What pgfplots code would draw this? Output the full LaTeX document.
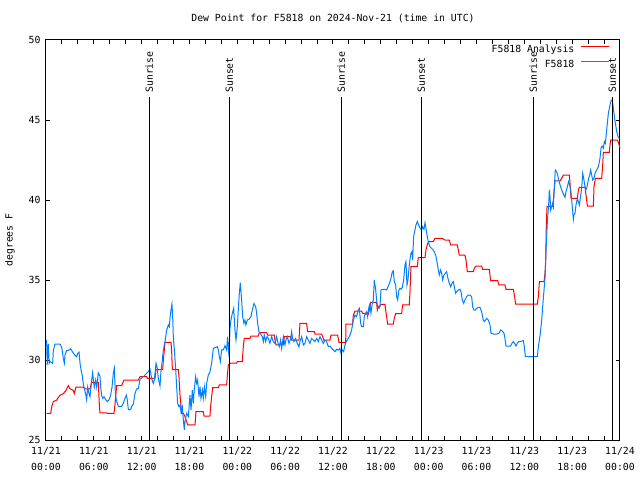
\documentclass[border=0pt]{standalone}
\usepackage{fontspec}
\setmainfont{DejaVu Sans Mono}
\usepackage{pgfplots}
\pgfplotsset{compat=1.18}
\definecolor{obsblue}{RGB}{0,128,255}
\newcommand\gfont{\fontsize{9.8}{14}\selectfont}
\newcommand\xfont{\fontsize{9.8}{15.5}\selectfont}
\begin{document}
\begin{tikzpicture}
\path[use as bounding box] (-46pt,-40pt) rectangle (594pt,440pt);
\begin{axis}[
  at={(0,0)}, anchor=south west,
  scale only axis, width=574pt, height=400pt,
  xmin=0, xmax=72, ymin=25, ymax=50,
  clip=false,
  xtick={0,6,...,72},
  xticklabels={{11/21\\00:00},{11/21\\06:00},{11/21\\12:00},{11/21\\18:00},{11/22\\00:00},{11/22\\06:00},{11/22\\12:00},{11/22\\18:00},{11/23\\00:00},{11/23\\06:00},{11/23\\12:00},{11/23\\18:00},{11/24\\00:00}},
  minor x tick num=2,
  ytick={25,30,...,50},
  tick align=inside,
  major tick length=4pt, minor tick length=4pt,
  tick style={black, line width=1pt},
  axis line style={line width=1pt},
  /pgf/number format/assume math mode=true,
  tick label style={font=\gfont},
  xticklabel style={font=\xfont, align=center, yshift=-4pt},
  yticklabel style={xshift=-2pt},
  title={Dew Point for F5818 on 2024-Nov-21 (time in UTC)},
  title style={font=\gfont, at={(0.5,1)}, anchor=center, yshift=16pt},
  legend style={font=\gfont, draw=none, fill=none, at={(0.987,0.997)}, anchor=north east, row sep=2pt,
    /tikz/every odd column/.append style={column sep=4pt}},
  legend cell align=right,
  legend plot pos=right,
  legend image code/.code={\draw[#1] (0pt,3pt) -- (28pt,3pt);},
]
\addplot[red, line width=1pt] coordinates {
(0.08,26.67) (0.59,26.67) (0.71,27.08) (0.92,27.4) (1.34,27.5) (1.76,27.8) (2.17,27.9) (2.51,28.1) (2.8,28.4) (3.01,28.2) (3.43,28.1) (3.55,27.9) (3.76,28.3) (4.68,28.3) (4.89,28.2) (5.52,28.2) (5.73,28.6) (6.56,28.6) (6.69,27.2) (6.77,26.7) (7.6,26.7) (7.69,26.67) (8.53,26.67) (8.65,27.2) (8.86,28.4) (9.49,28.4) (9.78,28.75) (11.58,28.75) (11.79,28.96) (12.63,28.96) (12.71,28.85) (13.67,28.85) (13.8,29.4) (14.64,29.4) (14.72,30.0) (14.93,31.1) (15.68,31.1) (15.76,30.6) (15.85,29.4) (16.6,29.4) (16.68,28.96) (16.81,27.8) (17.02,26.67) (17.23,26.67) (17.44,26.46) (17.77,25.94) (18.69,25.94) (18.81,26.77) (19.73,26.77) (19.82,26.5) (20.57,26.5) (20.65,27.1) (20.9,28.27) (21.62,28.27) (21.74,28.44) (22.66,28.44) (22.74,28.96) (22.87,29.69) (23.16,29.8) (23.91,29.8) (24.0,29.9) (24.62,29.9) (24.75,30.83) (24.87,31.35) (25.59,31.35) (25.71,31.5) (26.63,31.5) (26.76,31.71) (27.68,31.71) (27.8,31.56) (28.64,31.56) (28.72,31.25) (28.85,30.94) (29.77,30.94) (29.89,31.46) (30.69,31.46) (30.81,31.25) (31.73,31.25) (31.86,32.29) (32.69,32.29) (32.82,31.77) (33.66,31.77) (33.74,31.625) (34.57,31.625) (34.7,31.46) (34.83,31.25) (35.62,31.25) (35.75,31.56) (36.58,31.56) (36.75,31.1) (37.59,31.1) (37.63,32.25) (38.46,32.25) (38.55,32.81) (38.76,33.06) (39.59,33.06) (39.72,32.92) (40.43,32.85) (40.55,33.125) (40.72,33.6) (41.47,33.6) (41.56,33.125) (41.68,33.375) (41.89,33.375) (41.98,33.48) (42.52,33.48) (42.6,33.125) (42.73,32.71) (42.85,32.25) (43.56,32.25) (43.69,32.6) (43.86,32.9) (44.61,32.9) (44.73,33.44) (45.57,33.44) (45.65,34.17) (45.78,35.83) (46.57,35.83) (46.7,36.4) (47.54,36.4) (47.66,36.875) (47.87,37.29) (48.08,37.4) (48.58,37.4) (48.79,37.6) (49.75,37.6) (49.84,37.54) (50.05,37.5) (50.59,37.5) (50.76,37.19) (51.59,37.19) (51.72,36.875) (51.84,36.56) (52.55,36.56) (52.68,36.25) (52.85,35.52) (53.6,35.52) (53.72,35.73) (53.93,35.875) (54.64,35.875) (54.77,35.67) (55.61,35.67) (55.77,34.96) (56.65,34.96) (56.82,34.69) (57.57,34.69) (57.7,34.42) (58.62,34.42) (58.78,33.96) (58.91,33.5) (61.63,33.5) (61.76,33.96) (61.89,34.9) (62.47,34.9) (62.6,35.42) (62.68,36.08) (62.76,38.54) (62.85,39.6) (63.56,39.6) (63.64,40.0) (63.85,41.19) (64.48,41.19) (64.69,41.35) (64.9,41.56) (65.65,41.56) (65.73,41.04) (65.86,40.1) (66.65,40.1) (66.78,40.625) (66.9,40.79) (67.61,40.79) (67.74,40.31) (67.91,39.625) (68.66,39.625) (68.74,40.83) (68.91,41.35) (69.7,41.35) (69.83,42.19) (69.91,42.98) (70.66,42.98) (70.75,43.44) (70.83,43.75) (71.67,43.75) (71.84,43.54) (72.0,43.23)
};
\addlegendentry{F5818 Analysis}
\addplot[obsblue, line width=1pt] coordinates {
(0.08,31.25) (0.15,29.7) (0.29,31.0) (0.4,29.8) (0.5,29.9) (0.84,29.8) (0.92,30.6) (1.13,31.0) (1.55,31.0) (1.76,31.0) (1.97,30.8) (2.17,30.1) (2.30,29.8) (2.38,30.3) (2.59,30.6) (2.8,30.6) (3.09,30.7) (3.34,30.5) (3.64,30.3) (3.85,30.2) (3.97,30.4) (4.14,30.5) (4.27,29.8) (4.39,29.4) (4.56,29.0) (4.68,28.5) (4.81,28.2) (4.97,27.9) (5.1,27.5) (5.23,28.3) (5.39,27.9) (5.52,27.7) (5.73,28.75) (5.85,29.2) (5.94,28.75) (6.06,28.3) (6.23,28.75) (6.36,28.3) (6.56,29.2) (6.77,29.0) (6.86,28.3) (6.98,27.8) (7.11,27.6) (7.28,27.7) (7.53,27.5) (7.69,27.4) (7.9,27.5) (8.11,27.8) (8.28,28.3) (8.45,29.2) (8.57,29.5) (8.7,27.9) (8.82,27.5) (9.07,27.1) (9.49,27.1) (9.7,27.3) (9.91,27.6) (10.08,27.8) (10.2,27.5) (10.33,26.9) (10.62,26.9) (10.75,27.1) (10.96,27.25) (11.16,27.9) (11.37,28.2) (11.58,28.2)
(11.79,28.79) (12.21,28.96) (12.84,29.27) (13.05,29.42) (13.25,28.85) (13.46,28.54) (13.59,28.75) (13.8,29.79) (13.96,29.48) (14.09,28.85) (14.3,28.38) (14.42,29.27) (14.59,30.0) (14.72,30.63) (14.93,31.15) (15.14,31.88) (15.35,32.19) (15.47,32.08) (15.55,32.6) (15.68,33.13) (15.8,33.5) (15.89,32.71) (15.97,31.46) (16.1,30.63) (16.26,29.48) (16.39,28.33) (16.51,27.29) (16.68,27.08) (16.81,27.19) (16.93,26.77) (17.1,27.08) (17.23,26.25) (17.35,25.63) (17.43,26.15) (17.64,26.67) (17.85,26.46) (17.98,27.29) (18.06,27.81) (18.19,26.875) (18.35,28.125) (18.48,27.29) (18.6,28.125) (18.77,28.96) (18.9,28.54) (19.02,28.75) (19.19,27.71) (19.32,28.33) (19.44,27.6) (19.61,28.125) (19.73,27.6) (19.86,28.33) (20.03,27.71) (20.15,28.54) (20.36,29.06) (20.57,29.27) (20.78,29.79) (20.99,30.73) (21.2,30.77) (21.49,30.83) (21.62,30.63) (21.74,30.21) (21.87,29.9) (22.03,30.63) (22.24,30.63) (22.45,30.9)
(22.66,30.625) (22.78,31.46) (22.95,30.21) (23.08,31.98) (23.2,32.5) (23.37,32.92) (23.54,33.23) (23.7,31.875) (23.83,31.25) (24.0,32.08) (24.12,33.125) (24.25,34.17) (24.37,34.83) (24.54,33.75) (24.67,32.71) (24.83,32.29) (24.96,32.5) (25.08,32.19) (25.25,32.5) (25.46,32.54) (25.71,32.71) (25.88,33.125) (26.09,33.54) (26.3,33.33) (26.42,32.92) (26.55,32.29) (26.71,31.77) (26.92,31.625) (27.13,31.46) (27.26,31.15) (27.38,31.56) (27.55,31.15) (27.72,31.46) (27.89,31.35) (28.09,31.04) (28.3,31.46) (28.51,31.15) (28.72,31.04) (28.93,31.46) (29.06,31.15) (29.26,30.83) (29.43,31.25) (29.56,30.73) (29.77,31.46) (29.98,30.94) (30.1,31.25) (30.27,31.46) (30.48,31.04) (30.69,31.35) (30.81,31.77) (30.94,31.35) (31.1,31.15) (31.31,31.35) (31.52,31.04) (31.73,30.83) (31.86,31.15) (32.07,31.46) (32.28,30.94) (32.48,31.04) (32.69,31.46) (32.9,31.25) (33.11,31.04) (33.32,31.35) (33.53,31.25) (33.74,31.15) (33.95,31.35) (34.16,31.15) (34.37,31.46) (34.58,31.25) (34.78,31.04) (34.99,31.25) (35.2,31.15) (35.41,30.83) (35.62,30.875) (35.83,30.73) (36.04,30.625) (36.25,30.52) (36.46,30.67) (36.67,30.625) (36.87,30.73) (37.0,30.42) (37.17,30.625) (37.33,30.52) (37.5,30.94) (37.71,31.2) (37.92,31.35)
(38.13,31.56) (38.34,31.875) (38.55,32.5) (38.76,32.81) (38.96,32.71) (39.17,33.125) (39.3,33.23) (39.47,32.29) (39.59,32.08) (39.8,32.08) (39.93,32.71) (40.09,32.92) (40.22,33.02) (40.34,32.71) (40.51,33.33) (40.64,33.5) (40.76,32.92) (40.93,33.54) (41.06,33.75) (41.18,35.0) (41.35,34.42) (41.47,33.75) (41.6,33.33) (41.77,33.23) (41.89,33.33) (42.02,34.375) (42.23,34.42) (42.52,34.42) (42.73,34.375) (42.94,34.625) (43.15,34.9) (43.27,35.1) (43.44,35.52) (43.56,35.58) (43.69,34.9) (43.86,34.69) (43.98,33.96) (44.11,33.75) (44.27,34.375) (44.4,34.48) (44.53,34.42) (44.69,34.54) (44.86,35.0) (45.03,35.94) (45.15,36.15) (45.28,34.69) (45.4,35.0) (45.53,35.73) (45.65,36.25) (45.78,36.67) (45.91,36.77) (45.99,36.25) (46.11,37.71) (46.28,38.125) (46.41,38.44) (46.57,38.65) (46.74,38.44) (46.91,38.25)
(47.12,38.125) (47.24,38.33) (47.41,38.17) (47.54,38.58) (47.66,38.23) (47.83,37.71) (48.0,37.29) (48.16,37.08) (48.37,36.98) (48.58,36.875) (48.79,36.67) (48.92,36.46) (49.08,36.04) (49.21,35.625) (49.33,35.31) (49.5,35.625) (49.63,35.42) (49.75,35.0) (49.92,35.31) (50.09,35.42) (50.25,35.52) (50.42,35.1) (50.59,34.79) (50.76,34.58) (50.92,34.79) (51.09,34.9) (51.22,34.58) (51.38,34.17) (51.51,34.27) (51.72,34.375) (51.93,34.42) (52.05,34.27) (52.22,33.75) (52.39,33.54) (52.55,33.75) (52.76,33.96) (52.97,34.06) (53.18,34.06) (53.39,33.96) (53.52,33.33) (53.68,33.125) (53.85,33.125) (54.02,33.23) (54.23,33.29) (54.44,33.29) (54.64,33.02) (54.85,32.5) (54.98,32.4) (55.15,32.5) (55.27,32.6) (55.48,32.5) (55.69,32.19) (55.82,31.67) (56.11,31.625) (56.53,31.625) (56.82,31.67) (57.03,31.875) (57.24,31.81) (57.45,31.67) (57.57,31.35) (57.7,30.875) (57.99,30.875) (58.28,30.875) (58.45,31.04) (58.62,31.15) (58.83,31.0) (58.95,30.875) (59.12,31.04) (59.29,31.15) (59.46,31.15)
(59.88,31.21) (60.0,30.83) (60.13,30.21) (61.63,30.21) (61.76,30.83) (61.89,31.25) (62.05,31.875) (62.18,32.5) (62.3,33.33) (62.47,34.375) (62.6,35.21) (62.68,36.46) (62.8,37.71) (62.89,38.65) (62.97,39.17) (63.06,39.79) (63.14,40.625) (63.22,40.21) (63.31,39.375) (63.43,39.58) (63.56,39.79) (63.64,39.58) (63.72,40.42) (63.81,41.25) (63.89,41.875) (64.06,41.77) (64.18,41.56) (64.31,41.25) (64.48,40.94) (64.69,40.625) (64.9,40.375) (65.1,40.17) (65.23,40.52) (65.4,40.83) (65.56,41.15) (65.69,40.94) (65.82,40.625) (65.94,40.0) (66.07,39.27) (66.15,38.79) (66.23,39.06) (66.36,39.17) (66.48,39.69) (66.65,40.1) (66.78,39.9) (66.9,39.69) (66.99,40.0) (67.11,40.42) (67.24,41.04) (67.32,41.67) (67.45,41.35) (67.57,40.94) (67.7,40.625) (67.82,40.73) (67.95,41.04) (68.07,41.35) (68.2,41.56) (68.32,41.875) (68.45,41.56) (68.57,41.25) (68.74,41.35) (68.87,41.67) (69.08,41.875) (69.29,42.08) (69.49,42.6) (69.62,43.23) (69.75,43.375) (69.91,43.23) (70.04,43.65) (70.16,43.54) (70.29,44.17) (70.41,44.79) (70.54,45.42) (70.66,45.73) (70.79,46.04) (70.92,46.25) (71.04,46.25) (71.17,45.73) (71.29,45.21) (71.42,44.79) (71.59,44.27) (71.75,43.96) (71.92,43.85)
};
\addlegendentry{F5818}
% sunrise / sunset markers
\addplot[black, line width=1pt, forget plot] coordinates {(12.96,25) (12.96,46.45)};
\addplot[black, line width=1pt, forget plot] coordinates {(23.0,25) (23.0,46.45)};
\addplot[black, line width=1pt, forget plot] coordinates {(37.04,25) (37.04,46.45)};
\addplot[black, line width=1pt, forget plot] coordinates {(47.08,25) (47.08,46.45)};
\addplot[black, line width=1pt, forget plot] coordinates {(61.1,25) (61.1,46.45)};
\addplot[black, line width=1pt, forget plot] coordinates {(71.04,25) (71.04,46.45)};
\node[rotate=90, anchor=west, inner sep=0pt, font=\gfont] at (axis cs:12.96,46.7) {Sunrise};
\node[rotate=90, anchor=west, inner sep=0pt, font=\gfont] at (axis cs:23.0,46.7) {Sunset};
\node[rotate=90, anchor=west, inner sep=0pt, font=\gfont] at (axis cs:37.04,46.7) {Sunrise};
\node[rotate=90, anchor=west, inner sep=0pt, font=\gfont] at (axis cs:47.08,46.7) {Sunset};
\node[rotate=90, anchor=west, inner sep=0pt, font=\gfont] at (axis cs:61.1,46.7) {Sunrise};
\node[rotate=90, anchor=west, inner sep=0pt, font=\gfont] at (axis cs:71.04,46.7) {Sunset};
\end{axis}
\node[rotate=90, font=\gfont] at (-36pt,200pt) {degrees F};
\end{tikzpicture}
\end{document}
